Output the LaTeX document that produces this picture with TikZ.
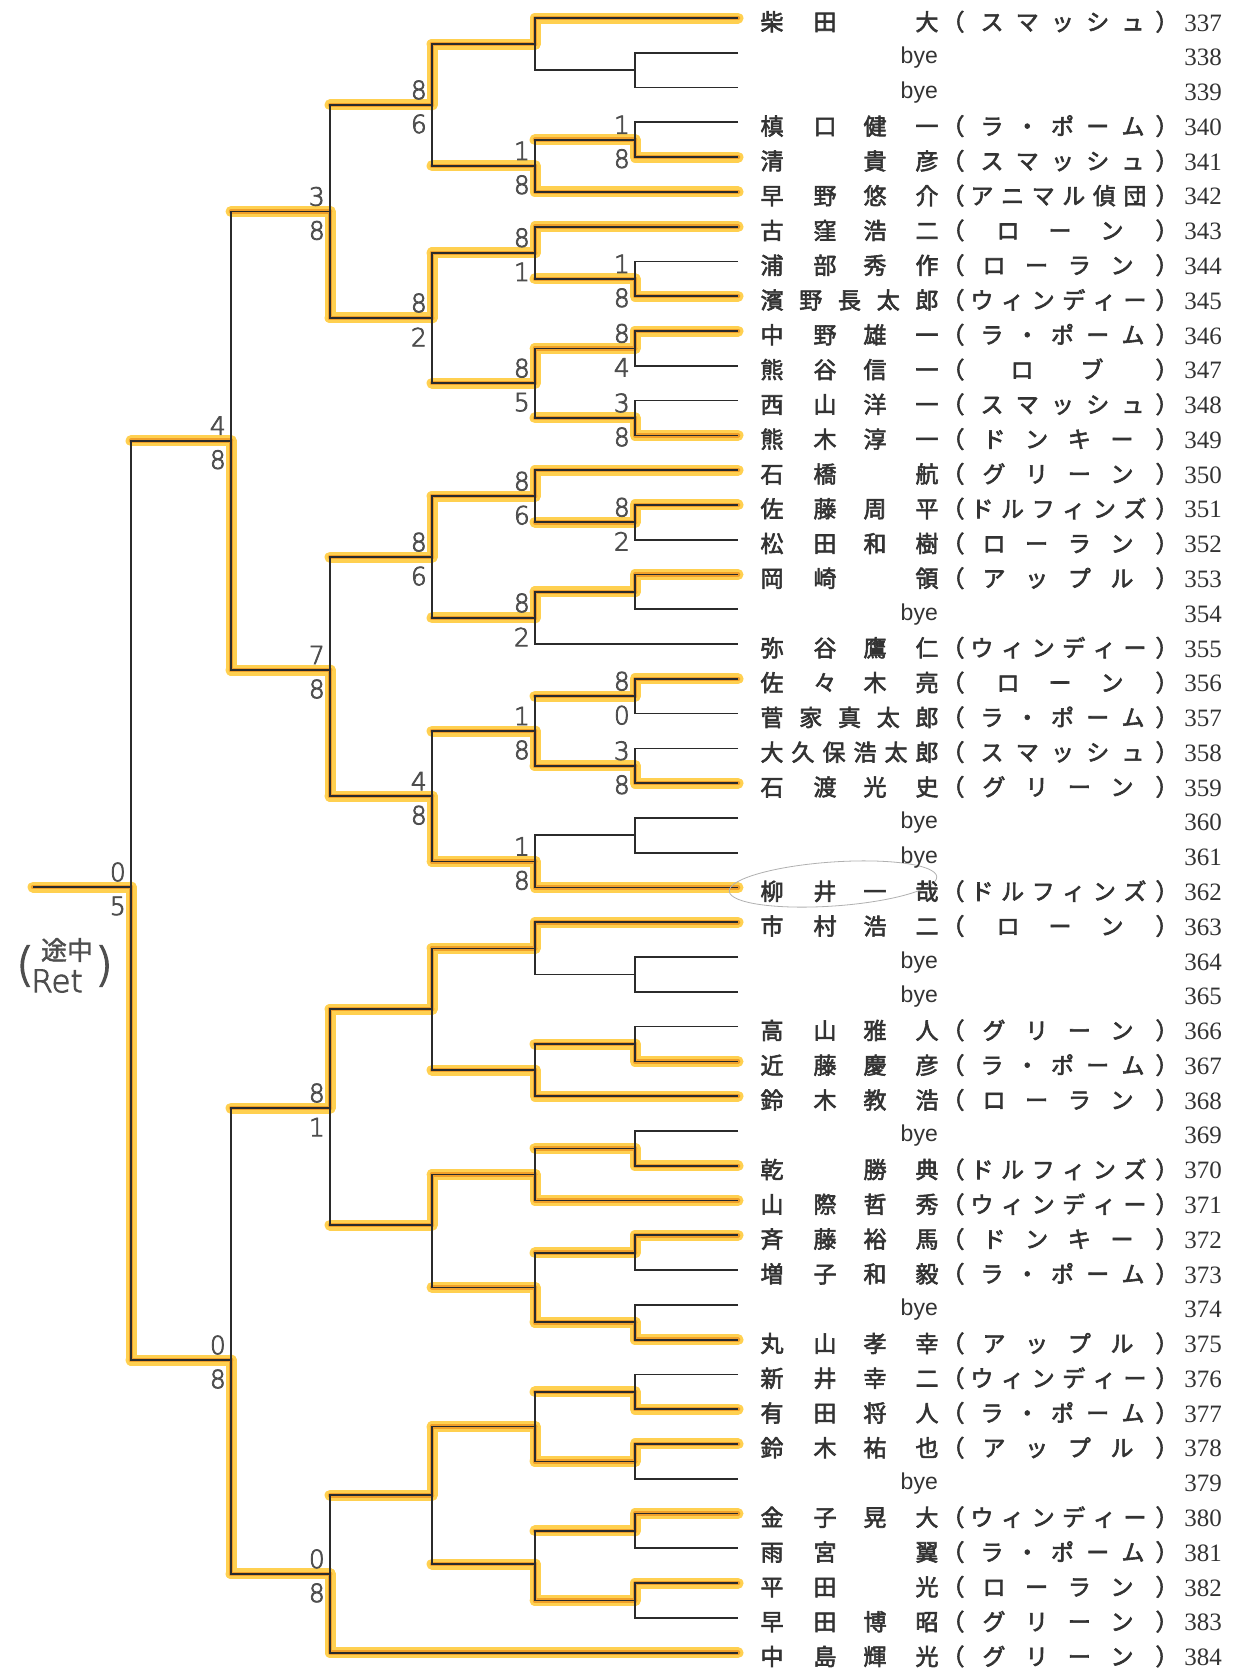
\documentclass[tikz,border=0pt]{standalone}
\usepackage{fontspec}
\usetikzlibrary{calc}
\newfontfamily\jp{Noto Sans CJK JP}[FakeBold=2.5]
\newfontfamily\jpplain{Noto Sans CJK JP}[FakeBold=1.5]
\newfontfamily\byef{Liberation Sans}
\newfontfamily\numf{Liberation Serif}
\newfontfamily\hand{DejaVu Sans ExtraLight}[FakeBold=3]
\definecolor{ink}{HTML}{2B2B2B}
\definecolor{txt}{HTML}{333333}
\definecolor{glowA}{HTML}{FFD050}
\definecolor{glowB}{HTML}{F0A02A}
\definecolor{pencil}{HTML}{4E4E4E}
\definecolor{faint}{HTML}{B0B0B0}
\newcommand\ry[1]{18+34.78*(#1-337)}
\newcommand\mybrk[3]{\draw[br] (#2) -| (#1) |- (#3);}
\newcommand\scores[3]{\node[hand,anchor=east] (s#1t) at ($(#1)+(-5,-15)$) {#2};\node[hand,anchor=east] (s#1b) at ($(#1)+(-5,19)$) {#3};}
\newcommand\nmF[5]{\node[jpc] (n#1a) at (772,{\ry{#1}+12.5}) {#2};\node[jpc] (n#1b) at (825,{\ry{#1}+12.5}) {#3};\node[jpc] (n#1c) at (875,{\ry{#1}+12.5}) {#4};\node[jpc] (n#1d) at (927,{\ry{#1}+12.5}) {#5};}
\newcommand\nmV[6]{\node[jpc] (n#1a) at (772,{\ry{#1}+12.5}) {#2};\node[jpc] (n#1b) at (810.75,{\ry{#1}+12.5}) {#3};\node[jpc] (n#1c) at (849.5,{\ry{#1}+12.5}) {#4};\node[jpc] (n#1d) at (888.25,{\ry{#1}+12.5}) {#5};\node[jpc] (n#1e) at (927,{\ry{#1}+12.5}) {#6};}
\newcommand\team[4]{\node[jpc] (po#1) at (953,{\ry{#1}+12.5}) {（};\node[jpc] (pc#1) at (1167,{\ry{#1}+12.5}) {）};\foreach \c [count=\k] in {#4} {\node[jpc] (t#1-\k) at ({#2+(\k-1)*#3},{\ry{#1}+12.5}) {\c};}}
\newcommand\tSM[1]{\team{#1}{992}{35.25}{ス,マ,ッ,シ,ュ}}
\newcommand\tLP[1]{\team{#1}{992}{35.25}{ラ,・,ポ,ー,ム}}
\newcommand\tAN[1]{\team{#1}{982}{30.6}{ア,ニ,マ,ル,偵,団}}
\newcommand\tLN[1]{\team{#1}{1008}{52}{ロ,ー,ン}}
\newcommand\tLR[1]{\team{#1}{994}{42.67}{ロ,ー,ラ,ン}}
\newcommand\tWD[1]{\team{#1}{982}{30.6}{ウ,ィ,ン,デ,ィ,ー}}
\newcommand\tLB[1]{\team{#1}{1022}{70}{ロ,ブ}}
\newcommand\tDK[1]{\team{#1}{994}{42.67}{ド,ン,キ,ー}}
\newcommand\tGR[1]{\team{#1}{994}{42.67}{グ,リ,ー,ン}}
\newcommand\tDF[1]{\team{#1}{982}{30.6}{ド,ル,フ,ィ,ン,ズ}}
\newcommand\tAP[1]{\team{#1}{994}{42.67}{ア,ッ,プ,ル}}
\newcommand\bye[1]{\node[byest] (bye#1) at (938,{\ry{#1}+11}) {bye};}
\begin{document}
\begin{tikzpicture}[x=1pt,y=-1pt,
  br/.style={draw=ink,line width=1.7pt},
  hlA/.style={draw=glowA,line width=11pt,line cap=round,line join=round},
  hlB/.style={draw=glowB,line width=4.5pt,line cap=round,line join=round},
  jpc/.style={font={\jp\fontsize{23}{23}\selectfont},text=txt,inner sep=0pt,anchor=base},
  byest/.style={font={\byef\fontsize{23}{23}\selectfont},text=txt,inner sep=0pt,anchor=base east},
  numst/.style={font={\numf\fontsize{25}{25}\selectfont},text=txt,inner sep=0pt,anchor=base},
  hand/.style={font={\hand\fontsize{25}{25}\selectfont},text=pencil,inner sep=0pt}]
\fill[white] (0,0) rectangle (1256,1668);
\useasboundingbox (0,0) rectangle (1256,1668);
% leaves
\foreach \n in {337,...,384} {\coordinate (L\n) at (738,{\ry{\n}});}
% matches
\coordinate (a1) at (635,70.17);
\coordinate (a2) at (535,44.09);
\coordinate (a3) at (635,139.73);
\coordinate (a4) at (535,165.82);
\coordinate (a5) at (432,104.96);
\coordinate (b1) at (635,278.85);
\coordinate (b2) at (535,252.77);
\coordinate (b3) at (635,348.41);
\coordinate (b4) at (635,417.97);
\coordinate (b5) at (535,383.19);
\coordinate (b6) at (432,317.98);
\coordinate (q1) at (330,211.47);
\coordinate (c1) at (635,522.31);
\coordinate (c2) at (535,496.23);
\coordinate (c3) at (635,591.87);
\coordinate (c4) at (535,617.96);
\coordinate (c5) at (432,557.1);
\coordinate (c6) at (635,696.21);
\coordinate (c7) at (635,765.77);
\coordinate (c8) at (535,730.99);
\coordinate (c9) at (635,835.33);
\coordinate (c10) at (535,861.42);
\coordinate (c11) at (432,796.2);
\coordinate (c12) at (330,670);
\coordinate (h1) at (231,440.7);
\coordinate (d1) at (635,974.45);
\coordinate (d2) at (535,948.37);
\coordinate (d3) at (635,1044.01);
\coordinate (d4) at (535,1070.1);
\coordinate (d5) at (432,1009.2);
\coordinate (d6) at (635,1148.35);
\coordinate (d7) at (535,1174.44);
\coordinate (d8) at (635,1252.69);
\coordinate (d9) at (635,1322.25);
\coordinate (d10) at (535,1287.47);
\coordinate (d11) at (432,1225);
\coordinate (d12) at (330,1108);
\coordinate (e1) at (635,1391.81);
\coordinate (e2) at (635,1461.37);
\coordinate (e3) at (535,1426.59);
\coordinate (e4) at (635,1530.93);
\coordinate (e5) at (635,1600.49);
\coordinate (e6) at (535,1564);
\coordinate (e7) at (432,1495.3);
\coordinate (e8) at (330,1573.9);
\coordinate (h2) at (231,1360);
\coordinate (fin) at (131,887);
\coordinate (out) at (33,887);
% highlights
\begin{scope}[shift={(1,1.5)}]
\foreach \hl in {hlA,hlB}{
 \draw[\hl] (L337) -| (a2); \draw[\hl] (L341) -| (a3); \draw[\hl] (L342) -| (a4);
 \draw[\hl] (a2) -| (a5);
 \draw[\hl] (L345) -| (b1); \draw[\hl] (L343) -| (b2); \draw[\hl] (L346) -| (b3);
 \draw[\hl] (L349) -| (b4); \draw[\hl] (b3) -| (b5); \draw[\hl] (b2) -| (b6);
 \draw[\hl] (b6) -| (q1);
 \draw[\hl] (L351) -| (c1); \draw[\hl] (L350) -| (c2); \draw[\hl] (L353) -| (c3);
 \draw[\hl] (c3) -| (c4); \draw[\hl] (c2) -| (c5); \draw[\hl] (L356) -| (c6);
 \draw[\hl] (L359) -| (c7); \draw[\hl] (c7) -| (c8); \draw[\hl] (L362) -| (c10);
 \draw[\hl] (c10) -| (c11); \draw[\hl] (c11) -| (c12); \draw[\hl] (c12) -| (h1);
 \draw[\hl] (h2) -| (fin);
 \draw[\hl] (L363) -| (d2); \draw[\hl] (L367) -| (d3); \draw[\hl] (L368) -| (d4);
 \draw[\hl] (d2) -| (d5); \draw[\hl] (L370) -| (d6); \draw[\hl] (L371) -| (d7);
 \draw[\hl] (L372) -| (d8); \draw[\hl] (L375) -| (d9); \draw[\hl] (d9) -| (d10);
 \draw[\hl] (d7) -| (d11); \draw[\hl] (d5) -| (d12);
 \draw[\hl] (L377) -| (e1); \draw[\hl] (L378) -| (e2); \draw[\hl] (e2) -| (e3);
 \draw[\hl] (L380) -| (e4); \draw[\hl] (L382) -| (e5); \draw[\hl] (e5) -| (e6);
 \draw[\hl] (e3) -| (e7); \draw[\hl] (L384) -| (e8); \draw[\hl] (e8) -| (h2);
 \foreach \m/\p in {a2/a5,a3/a4,a4/a5,a5/q1,b1/b2,b2/b6,b3/b5,b4/b5,b5/b6,b6/q1,q1/h1,
   c1/c2,c2/c5,c3/c4,c4/c5,c5/c12,c6/c8,c7/c8,c8/c11,c10/c11,c11/c12,c12/h1,h1/fin,
   d2/d5,d3/d4,d4/d5,d5/d12,d6/d7,d7/d11,d8/d10,d9/d10,d10/d11,d11/d12,d12/h2,
   e1/e3,e2/e3,e3/e7,e4/e6,e5/e6,e6/e7,e7/e8,e8/h2,h2/fin,fin/out}
   {\draw[\hl] (\m) -- (\m -| \p);}
}
\end{scope}
% bracket lines
\mybrk{a1}{L338}{L339}
\mybrk{a2}{L337}{a1}
\mybrk{a3}{L340}{L341}
\mybrk{a4}{a3}{L342}
\mybrk{a5}{a2}{a4}
\mybrk{b1}{L344}{L345}
\mybrk{b2}{L343}{b1}
\mybrk{b3}{L346}{L347}
\mybrk{b4}{L348}{L349}
\mybrk{b5}{b3}{b4}
\mybrk{b6}{b2}{b5}
\mybrk{q1}{a5}{b6}
\mybrk{c1}{L351}{L352}
\mybrk{c2}{L350}{c1}
\mybrk{c3}{L353}{L354}
\mybrk{c4}{c3}{L355}
\mybrk{c5}{c2}{c4}
\mybrk{c6}{L356}{L357}
\mybrk{c7}{L358}{L359}
\mybrk{c8}{c6}{c7}
\mybrk{c9}{L360}{L361}
\mybrk{c10}{c9}{L362}
\mybrk{c11}{c8}{c10}
\mybrk{c12}{c5}{c11}
\mybrk{h1}{q1}{c12}
\mybrk{d1}{L364}{L365}
\mybrk{d2}{L363}{d1}
\mybrk{d3}{L366}{L367}
\mybrk{d4}{d3}{L368}
\mybrk{d5}{d2}{d4}
\mybrk{d6}{L369}{L370}
\mybrk{d7}{d6}{L371}
\mybrk{d8}{L372}{L373}
\mybrk{d9}{L374}{L375}
\mybrk{d10}{d8}{d9}
\mybrk{d11}{d7}{d10}
\mybrk{d12}{d5}{d11}
\mybrk{e1}{L376}{L377}
\mybrk{e2}{L378}{L379}
\mybrk{e3}{e1}{e2}
\mybrk{e4}{L380}{L381}
\mybrk{e5}{L382}{L383}
\mybrk{e6}{e4}{e5}
\mybrk{e7}{e3}{e6}
\mybrk{e8}{e7}{L384}
\mybrk{h2}{d12}{e8}
\mybrk{fin}{h1}{h2}
\draw[br] (fin) -- (out);
% scores
\scores{a3}{1}{8}
\scores{a4}{1}{8}
\scores{a5}{8}{6}
\scores{b1}{1}{8}
\scores{b2}{8}{1}
\scores{b3}{8}{4}
\scores{b4}{3}{8}
\scores{b5}{8}{5}
\scores{b6}{8}{2}
\scores{q1}{3}{8}
\scores{c1}{8}{2}
\scores{c2}{8}{6}
\scores{c4}{8}{2}
\scores{c5}{8}{6}
\scores{c6}{8}{0}
\scores{c7}{3}{8}
\scores{c8}{1}{8}
\scores{c10}{1}{8}
\scores{c11}{4}{8}
\scores{c12}{7}{8}
\scores{h1}{4}{8}
\scores{d12}{8}{1}
\scores{e8}{0}{8}
\scores{h2}{0}{8}
\scores{fin}{0}{5}
% retirement note
\node[hand,font={\hand\fontsize{46}{46}\selectfont}] (rp1) at (25,966) {(};
\node[text=pencil,inner sep=0pt,font={\jpplain\fontsize{26}{26}\selectfont}] (rt1) at (67,950) {途中};
\node[hand,font={\hand\fontsize{31}{31}\selectfont}] (rt2) at (57,981) {Ret};
\node[hand,font={\hand\fontsize{46}{46}\selectfont}] (rp2) at (104,966) {)};
% faint pencil ellipse
\draw[faint,line width=0.8pt] (833,884) ellipse [x radius=104,y radius=22,rotate=4];
% names
\nmF{337}{柴}{田}{}{大}\tSM{337}
\bye{338}
\bye{339}
\nmF{340}{槙}{口}{健}{一}\tLP{340}
\nmF{341}{清}{}{貴}{彦}\tSM{341}
\nmF{342}{早}{野}{悠}{介}\tAN{342}
\nmF{343}{古}{窪}{浩}{二}\tLN{343}
\nmF{344}{浦}{部}{秀}{作}\tLR{344}
\nmV{345}{濱}{野}{長}{太}{郎}\tWD{345}
\nmF{346}{中}{野}{雄}{一}\tLP{346}
\nmF{347}{熊}{谷}{信}{一}\tLB{347}
\nmF{348}{西}{山}{洋}{一}\tSM{348}
\nmF{349}{熊}{木}{淳}{一}\tDK{349}
\nmF{350}{石}{橋}{}{航}\tGR{350}
\nmF{351}{佐}{藤}{周}{平}\tDF{351}
\nmF{352}{松}{田}{和}{樹}\tLR{352}
\nmF{353}{岡}{崎}{}{領}\tAP{353}
\bye{354}
\nmF{355}{弥}{谷}{鷹}{仁}\tWD{355}
\nmF{356}{佐}{々}{木}{亮}\tLN{356}
\nmV{357}{菅}{家}{真}{太}{郎}\tLP{357}
\foreach \c [count=\k] in {大,久,保,浩,太,郎} {\node[jpc] (n358-\k) at ({772+(\k-1)*31},{\ry{358}+12.5}) {\c};}
\tSM{358}
\nmF{359}{石}{渡}{光}{史}\tGR{359}
\bye{360}
\bye{361}
\nmF{362}{柳}{井}{一}{哉}\tDF{362}
\nmF{363}{市}{村}{浩}{二}\tLN{363}
\bye{364}
\bye{365}
\nmF{366}{高}{山}{雅}{人}\tGR{366}
\nmF{367}{近}{藤}{慶}{彦}\tLP{367}
\nmF{368}{鈴}{木}{教}{浩}\tLR{368}
\bye{369}
\nmF{370}{乾}{}{勝}{典}\tDF{370}
\nmF{371}{山}{際}{哲}{秀}\tWD{371}
\nmF{372}{斉}{藤}{裕}{馬}\tDK{372}
\nmF{373}{増}{子}{和}{毅}\tLP{373}
\bye{374}
\nmF{375}{丸}{山}{孝}{幸}\tAP{375}
\nmF{376}{新}{井}{幸}{二}\tWD{376}
\nmF{377}{有}{田}{将}{人}\tLP{377}
\nmF{378}{鈴}{木}{祐}{也}\tAP{378}
\bye{379}
\nmF{380}{金}{子}{晃}{大}\tWD{380}
\nmF{381}{雨}{宮}{}{翼}\tLP{381}
\nmF{382}{平}{田}{}{光}\tLR{382}
\nmF{383}{早}{田}{博}{昭}\tGR{383}
\nmF{384}{中}{島}{輝}{光}\tGR{384}
% numbers
\foreach \n in {337,...,384} {\node[numst] (no\n) at (1203,{\ry{\n}+13}) {\n};}
\end{tikzpicture}
\end{document}
